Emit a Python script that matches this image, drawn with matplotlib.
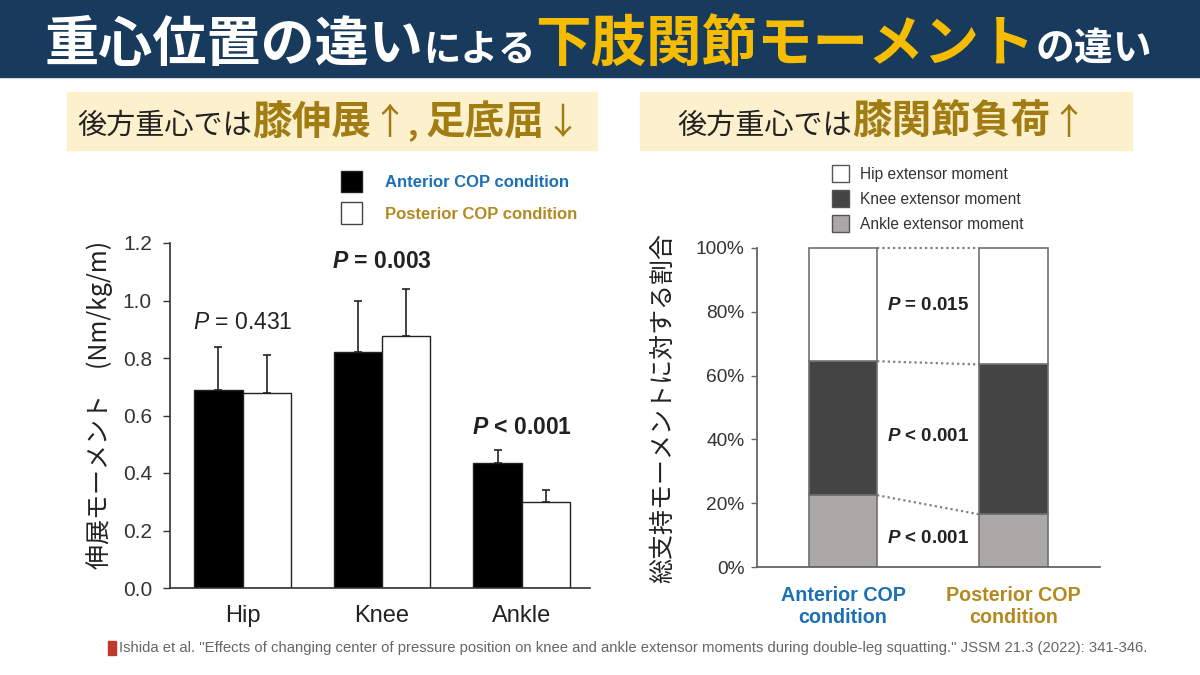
import matplotlib
matplotlib.use('Agg')
import matplotlib.pyplot as plt
from matplotlib.patches import Rectangle, Patch
from matplotlib.ticker import PercentFormatter

plt.rcParams['font.family'] = ['Liberation Sans', 'Noto Sans CJK JP', 'DejaVu Sans']
plt.rcParams['mathtext.fontset'] = 'custom'
plt.rcParams['mathtext.it'] = 'Liberation Sans:italic'
plt.rcParams['mathtext.bf'] = 'Liberation Sans:bold'
plt.rcParams['mathtext.bfit'] = 'Liberation Sans:bold:italic'
plt.rcParams['mathtext.rm'] = 'Liberation Sans'
JP = ['Noto Sans CJK JP', 'DejaVu Sans']

# --- left chart data (Nm/kg/m)
joints = ['Hip', 'Knee', 'Ankle']
anterior = [0.69, 0.82, 0.435]
anterior_sd = [0.15, 0.18, 0.045]
posterior = [0.68, 0.875, 0.30]
posterior_sd = [0.13, 0.165, 0.04]
p_left = [r'$\mathit{P}$ = 0.431', r'$\mathbfit{P}$ = 0.003', r'$\mathbfit{P}$ < 0.001']
p_left_y = [0.925, 1.135, 0.557]
p_left_bold = [False, True, True]

# --- right chart data (% of total support moment)
conditions = ['Anterior COP\ncondition', 'Posterior COP\ncondition']
ankle_pct = [22.5, 16.5]
knee_pct = [42.0, 47.0]
hip_pct = [35.5, 36.5]
p_right = [r'$\mathbfit{P}$ = 0.015', r'$\mathbfit{P}$ < 0.001', r'$\mathbfit{P}$ < 0.001']
p_right_y = [82, 41, 9]

citation = ('Ishida et al. "Effects of changing center of pressure position on knee and ankle '
            'extensor moments during double-leg squatting." JSSM 21.3 (2022): 341-346.')

BLUE = '#1b6fb5'
GOLD = '#b38a1f'

W, H = 1200, 675
fig = plt.figure(figsize=(12, 6.75), dpi=100)
fig.patch.set_facecolor('white')


def fx(px):
    return px / W


def fy(py):
    return 1 - py / H


def draw_runs(runs, cx, y):
    # lay text pieces side by side, centred on cx (pixels)
    r = fig.canvas.get_renderer()
    texts = [fig.text(0, fy(y), s, va='baseline', ha='left', family=JP, **kw) for s, kw in runs]
    widths = [t.get_window_extent(r).width for t in texts]
    x = cx - sum(widths) / 2
    for t, w in zip(texts, widths):
        t.set_x(fx(x))
        x += w


# header band
fig.patches.append(Rectangle((0, fy(77)), 1, 77 / H, transform=fig.transFigure,
                             color='#183a5c', zorder=0))
draw_runs([('重心位置の違い', dict(color='white', fontsize=39, fontweight='bold')),
           ('による', dict(color='white', fontsize=27, fontweight='bold')),
           ('下肢関節モーメント', dict(color='#f6bd00', fontsize=40, fontweight='bold')),
           ('の違い', dict(color='white', fontsize=28, fontweight='bold'))], 598, 61)

# subtitle boxes
for x0, x1 in [(67, 597), (640, 1132)]:
    fig.patches.append(Rectangle((fx(x0), fy(150)), (x1 - x0) / W, 58 / H,
                                 transform=fig.transFigure, color='#fdf0cc', zorder=0))
sub_gold = '#a07c12'
draw_runs([('後方重心では', dict(color='#222222', fontsize=21)),
           ('膝伸展', dict(color=sub_gold, fontsize=28.5, fontweight='bold')),
           ('↑', dict(color=sub_gold, fontsize=26)),
           (', ', dict(color=sub_gold, fontsize=23, fontweight='bold')),
           ('足底屈', dict(color=sub_gold, fontsize=28.5, fontweight='bold')),
           ('↓', dict(color=sub_gold, fontsize=26))], 329, 134)
draw_runs([('後方重心では', dict(color='#222222', fontsize=21)),
           ('膝関節負荷', dict(color=sub_gold, fontsize=28.5, fontweight='bold')),
           ('↑', dict(color=sub_gold, fontsize=26))], 882, 134)

# ---------------- left chart
ax1 = fig.add_axes([fx(170), fy(588), 420 / W, 345 / H])
w = 0.345
xs = list(range(len(joints)))
xa = [x - w / 2 for x in xs]
xp = [x + w / 2 for x in xs]
ax1.bar(xa, anterior, w, color='black', edgecolor='#222222', linewidth=1, zorder=2)
ax1.bar(xp, posterior, w, color='white', edgecolor='#222222', linewidth=1, zorder=2)
ax1.errorbar(xa, anterior, yerr=[[0] * 3, anterior_sd], fmt='none', ecolor='#222222',
             elinewidth=1.2, capsize=3, capthick=1.2, zorder=1)
ax1.errorbar(xp, posterior, yerr=[[0] * 3, posterior_sd], fmt='none', ecolor='#222222',
             elinewidth=1.2, capsize=3, capthick=1.2, zorder=1)
ax1.set_xlim(-0.52, 2.49)
ax1.set_ylim(0, 1.2)
ax1.set_yticks([0, 0.2, 0.4, 0.6, 0.8, 1.0, 1.2])
ax1.set_yticklabels(['0.0', '0.2', '0.4', '0.6', '0.8', '1.0', '1.2'])
ax1.set_xticks(xs)
ax1.set_xticklabels(joints)
ax1.tick_params(axis='y', labelsize=15, labelcolor='#333333', length=5, width=1,
                color='#333333', pad=8)
ax1.tick_params(axis='x', labelsize=17, labelcolor='#222222', length=0, pad=12)
for s in ['top', 'right']:
    ax1.spines[s].set_visible(False)
for s in ['left', 'bottom']:
    ax1.spines[s].set_color('#333333')
    ax1.spines[s].set_linewidth(1.2)
for x, y, s, b in zip(xs, p_left_y, p_left, p_left_bold):
    ax1.text(x, y, s, ha='center', va='center', fontsize=16.5,
             fontweight='bold' if b else 'normal', color='#222222')
fig.text(fx(100), fy(405), '伸展モーメント　(Nm/kg/m)', rotation=90, ha='center',
         va='center', fontsize=18, color='#222222', family=JP)

leg1 = fig.legend([Patch(facecolor='black', edgecolor='#222222'),
                   Patch(facecolor='white', edgecolor='#444444')],
                  ['Anterior COP condition', 'Posterior COP condition'],
                  loc='upper left', bbox_to_anchor=(fx(334), fy(164)), frameon=False,
                  prop=dict(size=12, weight='bold'), handlelength=1.25, handleheight=1.6,
                  handletextpad=1.4, labelspacing=0.62, borderaxespad=0)
for t, c in zip(leg1.get_texts(), [BLUE, GOLD]):
    t.set_color(c)

# ---------------- right chart
ax2 = fig.add_axes([fx(757), fy(567), 343 / W, 319 / H])
wb = 0.4
xc = [0, 1]
edge = '#707070'
ax2.bar(xc, ankle_pct, wb, color='#aba8a8', edgecolor=edge, linewidth=1.2, zorder=2)
knee_bottom = ankle_pct
ax2.bar(xc, knee_pct, wb, bottom=knee_bottom, color='#444444', edgecolor=edge,
        linewidth=1.2, zorder=2)
hip_bottom = [a + k for a, k in zip(ankle_pct, knee_pct)]
ax2.bar(xc, hip_pct, wb, bottom=hip_bottom, color='white', edgecolor=edge,
        linewidth=1.2, zorder=2, clip_on=False)
# dotted connectors between the stacks
tops = [ankle_pct, hip_bottom, [h + b for h, b in zip(hip_pct, hip_bottom)]]
for lv in tops:
    ax2.plot([xc[0] + wb / 2, xc[1] - wb / 2], lv, linestyle=(0, (1, 1.4)),
             color='#808080', linewidth=1.6, zorder=1, clip_on=False)
ax2.set_xlim(-0.504, 1.507)
ax2.set_ylim(0, 100)
ax2.set_yticks(range(0, 101, 20))
ax2.yaxis.set_major_formatter(PercentFormatter(decimals=0))
ax2.set_xticks(xc)
ax2.set_xticklabels(conditions)
for t, c in zip(ax2.get_xticklabels(), [BLUE, GOLD]):
    t.set_color(c)
    t.set_fontweight('bold')
    t.set_linespacing(1.15)
ax2.tick_params(axis='y', labelsize=13.8, labelcolor='#333333', length=4, width=1,
                color='#666666', pad=5)
ax2.tick_params(axis='x', labelsize=14.2, length=0, pad=14)
for s in ['top', 'right']:
    ax2.spines[s].set_visible(False)
for s in ['left', 'bottom']:
    ax2.spines[s].set_color('#666666')
    ax2.spines[s].set_linewidth(1.3)
for y, s in zip(p_right_y, p_right):
    ax2.text(0.5, y, s, ha='center', va='center', fontsize=13.5, fontweight='bold',
             color='#222222')
fig.text(fx(663), fy(408), '総支持モーメントに対する割合', rotation=90, ha='center',
         va='center', fontsize=18, color='#222222', family=JP)

leg2 = fig.legend([Patch(facecolor='white', edgecolor='#555555'),
                   Patch(facecolor='#444444', edgecolor='#555555'),
                   Patch(facecolor='#aba8a8', edgecolor='#555555')],
                  ['Hip extensor moment', 'Knee extensor moment', 'Ankle extensor moment'],
                  loc='upper left', bbox_to_anchor=(fx(826), fy(159)), frameon=False,
                  prop=dict(size=11.2), handlelength=1.05, handleheight=1.25,
                  handletextpad=0.75, labelspacing=0.55, borderaxespad=0)
for t in leg2.get_texts():
    t.set_color('#333333')

# citation with a small red book mark
fig.patches.append(Rectangle((fx(108), fy(655)), 8 / W, 14 / H, transform=fig.transFigure,
                             color='#c0392b', zorder=3))
cite = fig.text(fx(119), fy(648), citation, ha='left', va='center', color='#666666',
                fontsize=10, family=['Liberation Sans Narrow', 'Liberation Sans'])
cw = cite.get_window_extent(fig.canvas.get_renderer()).width
cite.set_fontsize(10 * 1034 / cw)

fig.savefig('out.png', dpi=100)
